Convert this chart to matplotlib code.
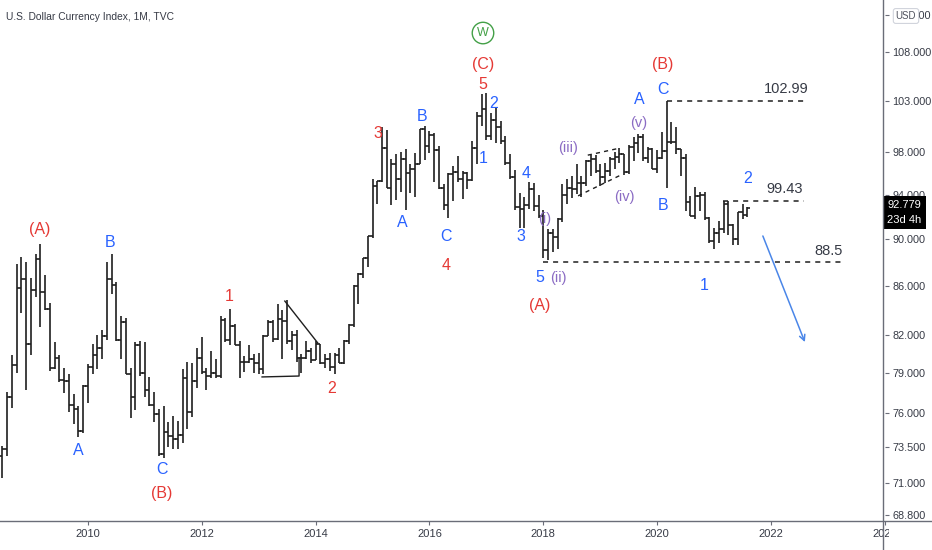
#!/usr/bin/env python3
"""U.S. Dollar Currency Index monthly OHLC bars with Elliott wave labels."""

import matplotlib

matplotlib.use("Agg")
import matplotlib.pyplot as plt
import matplotlib.transforms as mtransforms
import numpy as np
import pandas as pd
from matplotlib.lines import Line2D
from matplotlib.patches import Rectangle
from matplotlib.ticker import FixedLocator, FuncFormatter, NullFormatter, NullLocator

plt.rcParams["font.family"] = ["Liberation Sans", "DejaVu Sans"]

# monthly bars, Jul 2008 .. Aug 2021
first_month = "2008-07-01"

opens = [
    72.9, 73.4, 77.2, 79.6, 85.8, 86.6,
    81.3, 85.7, 88.3, 85.5, 84.1, 79.4, 80.2, 78.5, 78.4, 76.6, 76.3, 74.7,
    78.0, 79.5, 80.4, 81.0, 81.9, 86.6, 86.1, 81.6, 83.0, 78.9, 77.2, 81.2,
    79.0, 77.7, 76.6, 75.9, 73.0, 74.6, 74.3, 74.1, 74.4, 78.6, 76.1, 78.4,
    80.2, 79.1, 78.8, 79.0, 78.8, 83.2, 81.6, 82.7, 81.2, 79.9, 79.9, 80.1,
    79.8, 79.3, 81.9, 83.0, 81.7, 83.3, 83.1, 81.5, 82.0, 80.2, 80.2, 80.7,
    80.0, 81.3, 79.8, 80.1, 79.5, 80.4, 79.8, 81.5, 82.8, 86.0, 87.0, 88.4,
    90.3, 94.8, 95.3, 98.4, 94.6, 96.9, 95.5, 97.3, 96.0, 96.4, 96.9, 100.2,
    98.6, 99.6, 98.2, 94.6, 93.1, 95.9, 96.1, 95.5, 96.0, 95.4, 98.4, 101.5,
    102.2, 99.5, 101.1, 100.4, 99.1, 97.0, 95.6, 92.9, 92.7, 93.1, 94.5, 93.0,
    92.1, 89.1, 90.6, 90.2, 91.8, 94.0, 94.6, 94.5, 95.1, 95.1, 97.1, 97.3,
    96.2, 95.6, 96.2, 97.3, 97.5, 97.8, 96.1, 98.5, 98.9, 99.4, 97.4, 98.3,
    96.4, 97.4, 98.1, 99.0, 99.0, 98.3, 97.4, 93.3, 92.1, 93.9, 94.0, 91.9,
    89.9, 90.6, 90.9, 93.2, 91.3, 90.0, 92.4, 92.2,
]
highs = [
    73.6, 77.6, 80.4, 87.9, 88.5, 88.0,
    86.7, 88.7, 89.6, 86.9, 84.6, 81.4, 80.4, 79.4, 78.9, 77.4, 76.5, 78.1,
    79.7, 81.3, 82.0, 82.4, 88.0, 88.7, 86.3, 83.5, 83.4, 79.4, 81.4, 81.5,
    81.4, 78.7, 77.6, 76.3, 76.5, 75.3, 75.8, 75.4, 79.3, 79.9, 79.8, 81.0,
    81.8, 79.4, 80.7, 80.1, 83.5, 83.4, 84.1, 82.9, 81.5, 80.3, 81.2, 80.5,
    80.6, 82.0, 83.2, 83.2, 84.5, 84.0, 84.8, 82.3, 82.4, 80.5, 81.5, 81.0,
    81.5, 81.3, 80.5, 80.6, 80.6, 81.0, 81.6, 82.9, 86.1, 87.1, 88.4, 90.3,
    95.5, 95.3, 100.4, 100.1, 97.3, 97.8, 98.0, 98.3, 96.9, 97.9, 100.2, 100.5,
    100.0, 99.8, 98.6, 95.0, 96.0, 96.7, 97.6, 96.2, 96.1, 99.1, 101.9, 103.7,
    103.8, 101.8, 102.3, 101.0, 99.5, 97.8, 96.3, 94.2, 93.8, 95.2, 95.1, 94.0,
    92.6, 90.9, 90.9, 91.9, 95.0, 95.5, 95.7, 96.9, 95.7, 97.2, 97.7, 97.7,
    96.9, 97.0, 97.5, 98.0, 98.4, 97.8, 98.7, 99.4, 99.7, 99.7, 98.5, 98.4,
    98.2, 99.9, 103.0, 100.9, 100.4, 98.3, 97.8, 93.9, 94.7, 94.3, 94.3, 92.0,
    91.0, 91.6, 93.4, 93.4, 91.4, 92.4, 93.2, 92.9,
]
lows = [
    71.3, 72.9, 76.4, 79.0, 83.8, 77.7,
    80.4, 85.1, 82.6, 84.0, 79.2, 79.3, 78.3, 77.5, 76.1, 75.2, 74.2, 74.5,
    76.7, 78.9, 79.3, 80.1, 81.6, 85.3, 81.5, 80.1, 78.9, 75.6, 76.2, 78.8,
    77.2, 76.5, 75.3, 72.9, 72.7, 73.5, 73.4, 73.4, 73.8, 74.8, 75.7, 77.9,
    78.9, 77.7, 78.6, 78.6, 78.6, 81.4, 81.2, 81.2, 78.6, 79.1, 79.8, 79.0,
    78.9, 78.9, 81.9, 81.4, 81.6, 80.1, 81.3, 80.8, 79.9, 79.0, 80.1, 79.8,
    80.0, 79.7, 79.4, 79.2, 78.9, 79.8, 79.7, 81.3, 82.6, 84.5, 86.7, 87.6,
    90.1, 93.2, 95.2, 94.6, 93.1, 93.5, 94.3, 92.6, 94.2, 93.8, 96.9, 97.2,
    97.9, 95.2, 94.5, 92.6, 91.9, 93.4, 95.2, 93.6, 94.5, 95.3, 96.9, 100.5,
    99.2, 99.2, 98.9, 98.8, 96.8, 95.5, 92.6, 91.0, 91.0, 92.7, 92.5, 91.9,
    88.4, 88.2, 88.9, 89.2, 91.5, 93.2, 93.7, 94.1, 93.8, 94.8, 95.7, 96.0,
    94.8, 95.1, 95.7, 96.4, 97.0, 95.8, 95.9, 97.1, 97.9, 97.1, 97.0, 96.4,
    96.0, 97.3, 94.6, 98.8, 97.8, 95.7, 92.5, 92.1, 91.8, 92.5, 91.7, 89.7,
    89.2, 89.7, 90.6, 90.4, 89.5, 89.5, 91.8, 92.0,
]
closes = [
    73.4, 77.2, 79.6, 85.8, 86.6, 81.3,
    85.7, 88.3, 85.5, 84.1, 79.4, 80.2, 78.5, 78.4, 76.6, 76.3, 74.7, 78.0,
    79.5, 80.4, 81.0, 81.9, 86.6, 86.1, 81.6, 83.0, 78.9, 77.2, 81.2, 79.0,
    77.7, 76.6, 75.9, 73.0, 74.6, 74.3, 74.1, 74.4, 78.6, 76.1, 78.4, 80.2,
    79.1, 78.8, 79.0, 78.8, 83.2, 81.6, 82.7, 81.2, 79.9, 79.9, 80.1, 79.8,
    79.3, 81.9, 83.0, 81.7, 83.3, 83.1, 81.5, 82.0, 80.2, 80.2, 80.7, 80.0,
    81.3, 79.8, 80.1, 79.5, 80.4, 79.8, 81.5, 82.8, 86.0, 87.0, 88.4, 90.3,
    94.8, 95.3, 98.4, 94.6, 96.9, 95.5, 97.3, 96.0, 96.4, 96.9, 100.2, 98.6,
    99.6, 98.2, 94.6, 93.1, 95.9, 96.1, 95.5, 96.0, 95.4, 98.4, 101.5, 102.2,
    99.5, 101.1, 100.4, 99.1, 97.0, 95.6, 92.9, 92.7, 93.1, 94.5, 93.0, 92.1,
    89.1, 90.6, 90.2, 91.8, 94.0, 94.6, 94.5, 95.1, 95.1, 97.1, 97.3, 96.2,
    95.6, 96.2, 97.3, 97.5, 97.8, 96.1, 98.5, 98.9, 99.4, 97.4, 98.3, 96.4,
    97.4, 98.1, 99.0, 99.0, 98.3, 97.4, 93.3, 92.1, 93.9, 94.0, 91.9, 89.9,
    90.6, 90.9, 93.2, 91.3, 90.0, 92.4, 92.2, 92.779,
]

price_ticks = [68.8, 71, 73.5, 76, 79, 82, 86, 90, 94, 98, 103, 108, 112]
year_ticks = [2010, 2012, 2014, 2016, 2018, 2020, 2022, 2024]

# (text, decimal year, price, colour key)
wave_labels = [
    ("(A)", 2009.16, 90.84, "red"),
    ("A", 2009.83, 73.23, "blue"),
    ("B", 2010.39, 89.69, "blue"),
    ("C", 2011.30, 71.89, "blue"),
    ("(B)", 2011.30, 70.29, "red"),
    ("1", 2012.48, 85.10, "red"),
    ("2", 2014.29, 77.80, "red"),
    ("3", 2015.10, 99.83, "red"),
    ("A", 2015.53, 91.46, "blue"),
    ("B", 2015.87, 101.50, "blue"),
    ("C", 2016.29, 90.22, "blue"),
    ("4", 2016.29, 87.71, "red"),
    ("(C)", 2016.94, 106.68, "red"),
    ("5", 2016.94, 104.71, "red"),
    ("2", 2017.12, 102.79, "blue"),
    ("1", 2016.94, 97.34, "blue"),
    ("4", 2017.69, 95.93, "blue"),
    ("3", 2017.61, 90.22, "blue"),
    ("(i)", 2018.03, 91.81, "purple"),
    ("5", 2017.94, 86.69, "blue"),
    ("(ii)", 2018.27, 86.69, "purple"),
    ("(A)", 2017.94, 84.35, "red"),
    ("(iii)", 2018.43, 98.39, "purple"),
    ("(iv)", 2019.42, 93.80, "purple"),
    ("(v)", 2019.68, 100.81, "purple"),
    ("A", 2019.68, 103.19, "blue"),
    ("(B)", 2020.10, 106.68, "red"),
    ("C", 2020.10, 104.20, "blue"),
    ("B", 2020.10, 92.99, "blue"),
    ("2", 2021.58, 95.46, "blue"),
    ("1", 2020.82, 86.01, "blue"),
]
circle_label = ("W", 2016.94, 110.05)

# horizontal levels: line price, start, end, label text, label position
level_prices = [102.99, 93.44, 88.0]
level_starts = [2020.167, 2021.16, 2017.99]
level_ends = [2022.65, 2022.58, 2023.26]
level_texts = ["102.99", "99.43", "88.5"]
level_text_pos = [(2022.26, 104.2), (2022.24, 94.53), (2023.01, 89.0)]

triangle_top = [(2013.46, 84.75), (2014.04, 81.35)]
triangle_bottom = [(2013.06, 78.71), (2013.71, 78.78), (2013.71, 80.2)]
channel_upper = [(2018.78, 97.7), (2019.28, 98.3)]
channel_lower = [(2018.61, 93.9), (2019.35, 95.8)]
arrow_start = (2021.855, 90.3)
arrow_end = (2022.593, 81.43)

COLORS = {"red": "#e53935", "blue": "#2962ff", "purple": "#8b6cc4"}
GREEN = "#43a047"
BAR = "#1f1f1f"
AXIS = "#6a6d78"
TEXT = "#363a45"

W, H = 932, 550
fig = plt.figure(figsize=(W / 100, H / 100), dpi=100)
ax = fig.add_axes([0, 29 / H, 885 / W, 521 / H])
ax.set_yscale("log")

months = pd.date_range(first_month, periods=len(closes), freq="MS")
x = np.asarray(months.year + (months.month - 1) / 12, dtype=float)
tick = 0.045
ax.vlines(x, lows, highs, color=BAR, lw=1.2)
ax.hlines(opens, x - tick, x, color=BAR, lw=1.2)
ax.hlines(closes, x, x + tick, color=BAR, lw=1.2)

ax.set_xlim(2008.458, 2024.0)
ax.set_ylim(68.40, 113.65)
for s in ax.spines.values():
    s.set_visible(False)
ax.set_facecolor("white")

ax.yaxis.tick_right()
ax.yaxis.set_major_locator(FixedLocator(price_ticks))
ax.yaxis.set_minor_locator(NullLocator())
ax.yaxis.set_minor_formatter(NullFormatter())
ax.yaxis.set_major_formatter(FuncFormatter(lambda v, p: f"{v:.3f}"))
ax.xaxis.set_major_locator(FixedLocator(year_ticks))
ax.xaxis.set_major_formatter(FuncFormatter(lambda v, p: f"{int(round(v))}"))
ax.tick_params(axis="y", length=3, width=0.8, color=AXIS, labelsize=7.8,
               labelcolor=TEXT, pad=2.5)
ax.tick_params(axis="x", length=3, width=0.8, color=AXIS, labelsize=8,
               labelcolor=TEXT, pad=3)

# wave labels
for text, xx, yy, key in wave_labels:
    size = 10.5 if key == "purple" else 11.5
    ax.text(xx, yy, text, color=COLORS[key], fontsize=size, ha="center", va="center")
ax.text(circle_label[1], circle_label[2], circle_label[0], color=GREEN, fontsize=9,
        ha="center", va="center",
        bbox=dict(boxstyle="circle,pad=0.38", fc="white", ec=GREEN, lw=1.0))

# levels
for p, x0, x1, txt, pos in zip(level_prices, level_starts, level_ends, level_texts, level_text_pos):
    ax.plot([x0, x1], [p, p], color=BAR, lw=1.1, ls=(0, (3.3, 3.3)))
    ax.text(pos[0], pos[1], txt, color=TEXT, fontsize=10.5, ha="center", va="center")

for seg in (triangle_top, triangle_bottom):
    xs, ys = zip(*seg)
    ax.plot(xs, ys, color=BAR, lw=1.0)
for seg in (channel_upper, channel_lower):
    xs, ys = zip(*seg)
    ax.plot(xs, ys, color=BAR, lw=1.0, ls=(0, (3, 3)))

ax.annotate("", xy=arrow_end, xytext=arrow_start,
            arrowprops=dict(arrowstyle="->", color="#4a86e8", lw=1.1,
                            mutation_scale=10, shrinkA=0, shrinkB=0))

# last price marker
trans = mtransforms.blended_transform_factory(ax.transAxes, ax.transData)
ax.annotate(f"{closes[-1]:.3f}\n23d 4h", xy=(1, closes[-1]), xycoords=trans,
            xytext=(2, 8), textcoords="offset pixels", ha="left", va="top",
            color="white", fontsize=8, linespacing=1.55,
            bbox=dict(boxstyle="square,pad=0.4", fc="black", ec="none"),
            annotation_clip=False, zorder=12)

# chart frame lines and header
fig.add_artist(Rectangle((889 / W, 0), 43 / W, 27 / H, transform=fig.transFigure,
                         fc="white", ec="none", zorder=9))
fig.add_artist(Line2D([883 / W, 883 / W], [0, 1], transform=fig.transFigure,
                      color=AXIS, lw=1.0, zorder=10))
fig.add_artist(Line2D([0, 1], [29 / H, 29 / H], transform=fig.transFigure,
                      color=AXIS, lw=1.0, zorder=10))
fig.text(6 / W, 1 - 17 / H, "U.S. Dollar Currency Index, 1M, TVC", fontsize=7.4,
         color=TEXT, va="center", ha="left")
fig.text(906 / W, 1 - 16 / H, "USD", fontsize=7, color="#50535e", ha="center",
         va="center", zorder=12,
         bbox=dict(boxstyle="round,pad=0.25", fc="white", ec="#d1d4dc", lw=0.8))

fig.savefig("out.png", dpi=100)
